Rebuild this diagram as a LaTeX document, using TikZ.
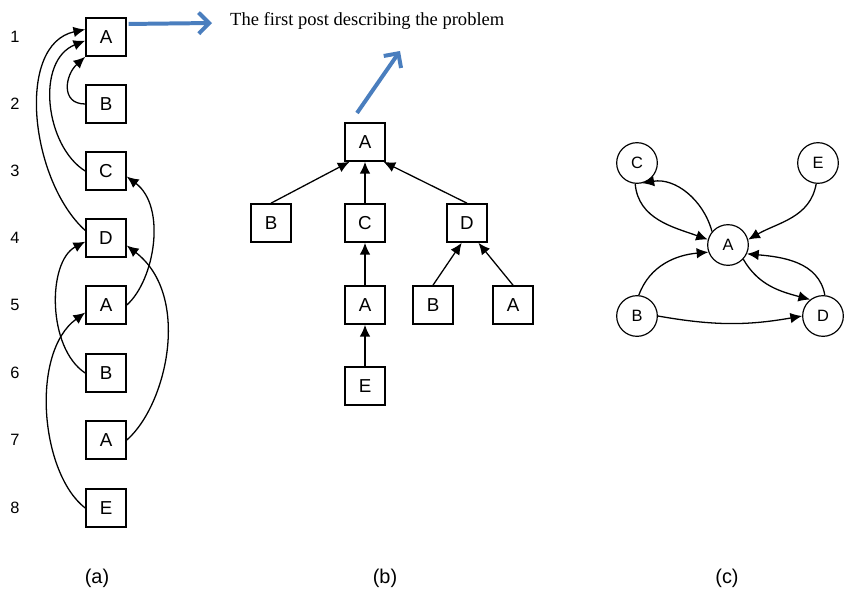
\documentclass[tikz,border=0pt]{standalone}
\usepackage{fontspec}
\setmainfont{Liberation Sans}
\newfontfamily\notefont{Liberation Serif}
\usetikzlibrary{arrows.meta}
\definecolor{noteblue}{RGB}{74,126,190}

\begin{document}
\begin{tikzpicture}[x=0.03cm, y=0.03cm,
    box/.style={draw, line width=1.4pt, minimum width=1.2cm, minimum height=1.14cm,
                inner sep=0pt, font=\fontsize{16}{19}\selectfont},
    circ/.style={draw, circle, line width=1pt, minimum size=1.22cm,
                 inner sep=0pt, font=\fontsize{14}{17}\selectfont},
    rownum/.style={font=\fontsize{14}{17}\selectfont},
    caption/.style={font=\fontsize{17}{20}\selectfont},
    arr/.style={-{Latex[length=10pt,width=9pt]}, line width=1.1pt},
    bluearrow/.style={-{Straight Barb[length=9pt,width=18pt]}, line width=3.4pt, noteblue}]

    \useasboundingbox (0,0) rectangle (847,-590);

    % ==========================================
    % (a): Posts in order
    % ==========================================

    % Row numbers
    \node[rownum] (r1) at (15,-37)  {1};
    \node[rownum] (r2) at (15,-104) {2};
    \node[rownum] (r3) at (15,-171) {3};
    \node[rownum] (r4) at (15,-238) {4};
    \node[rownum] (r5) at (15,-305) {5};
    \node[rownum] (r6) at (15,-373) {6};
    \node[rownum] (r7) at (15,-440) {7};
    \node[rownum] (r8) at (15,-508) {8};

    % Posts
    \node[box] (a1) at (106,-37)  {A};
    \node[box] (a2) at (106,-104) {B};
    \node[box] (a3) at (106,-171) {C};
    \node[box] (a4) at (106,-238) {D};
    \node[box] (a5) at (106,-305) {A};
    \node[box] (a6) at (106,-373) {B};
    \node[box] (a7) at (106,-440) {A};
    \node[box] (a8) at (106,-508) {E};

    % Replies, left side
    \draw[arr] (a2.west) .. controls +(-25,0) and +(-20,-18) .. (a1.south west);
    \draw[arr] (a3.west) .. controls +(-40,25) and +(-50,-20) .. (a1.190);
    \draw[arr] (a4.160) .. controls +(-55,50) and +(-70,-15) .. (a1.160);
    \draw[arr] (a6.west) .. controls +(-38,25) and +(-38,-20) .. (a4.190);
    \draw[arr] (a8.west) .. controls +(-45,35) and +(-55,-40) .. (a5.200);

    % Replies, right side
    \draw[arr] (a5.east) .. controls +(28,25) and +(40,-30) .. (a3.-15);
    \draw[arr] (a7.east) .. controls +(40,35) and +(65,-50) .. (a4.-20);

    % Note on the first post
    \coordinate (noteTip) at (212,-23);
    \node[anchor=west, inner sep=0pt, font=\notefont\fontsize{15.8}{18}\selectfont]
        (note) at (230,-21) {The first post describing the problem};
    \draw[bluearrow, shorten <=1.5pt] (a1.32) -- (noteTip);

    % ==========================================
    % (b): Reply tree
    % ==========================================

    \node[box] (bA)  at (365,-142) {A};
    \node[box] (bB)  at (271,-223) {B};
    \node[box] (bC)  at (365,-223) {C};
    \node[box] (bD)  at (467,-223) {D};
    \node[box] (bA2) at (365,-305) {A};
    \node[box] (bB2) at (433,-305) {B};
    \node[box] (bA3) at (513,-305) {A};
    \node[box] (bE)  at (365,-386) {E};

    \draw[arr] (bB.north)  -- (bA.232);
    \draw[arr] (bC.north)  -- (bA.south);
    \draw[arr] (bD.north)  -- (bA.-47);
    \draw[arr] (bA2.north) -- (bC.south);
    \draw[arr] (bE.north)  -- (bA2.south);
    \draw[arr] (bB2.north) -- (bD.255);
    \draw[arr] (bA3.north) -- (bD.-60);

    % Pointer to the root
    \coordinate (upTail) at (357,-113);
    \coordinate (upTip)  at (400,-51);
    \draw[bluearrow] (upTail) -- (upTip);

    % ==========================================
    % (c): Interaction graph
    % ==========================================

    \node[circ] (cC) at (637,-163) {C};
    \node[circ] (cE) at (818,-163) {E};
    \node[circ] (cA) at (728,-245) {A};
    \node[circ] (cB) at (637,-316) {B};
    \node[circ] (cD) at (823,-316) {D};

    \draw[arr] (cA.140) to[out=105, in=10]  (cC.-75);
    \draw[arr] (cC.-95) to[out=-85, in=160] (cA.165);
    \draw[arr] (cE.-95) to[out=-100, in=30] (cA.15);
    \draw[arr] (cB.85)  to[out=70, in=185]  (cA.200);
    \draw[arr] (cA.-43) to[out=-60, in=165] (cD.128);
    \draw[arr] (cD.85)  to[out=100, in=-5]  (cA.-25);
    \draw[arr] (cB.east) to[out=-10, in=190] (cD.west);

    % Captions
    \node[caption] (capA) at (97,-578)  {(a)};
    \node[caption] (capB) at (385,-578) {(b)};
    \node[caption] (capC) at (727,-578) {(c)};

\end{tikzpicture}
\end{document}
